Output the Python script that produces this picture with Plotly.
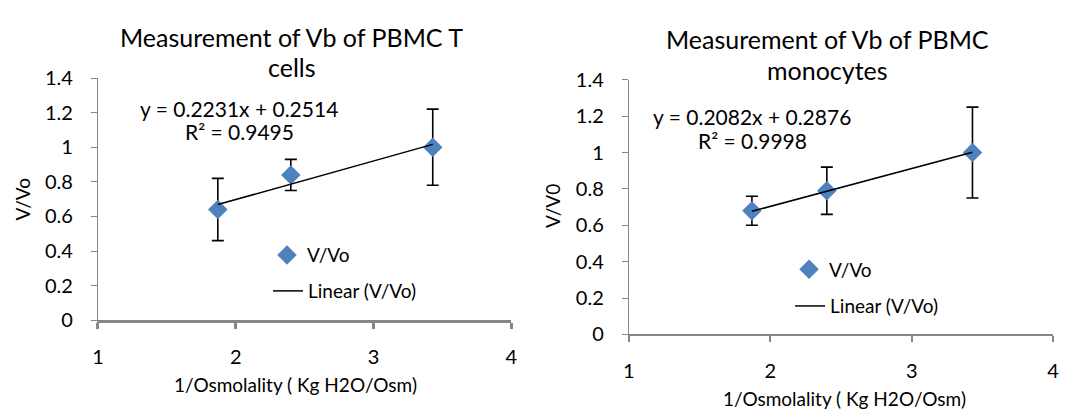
import plotly.graph_objects as go

# 1/Osmolality (Kg H2O/Osm) for the three test solutions
inv_osmolality = [1.87, 2.40, 3.43]

# PBMC T cells: relative volume V/Vo with error
tcell_v = [0.64, 0.84, 1.00]
tcell_err = [0.18, 0.09, 0.22]
tcell_fit = {"slope": 0.2231, "intercept": 0.2514, "r2": 0.9495}

# PBMC monocytes: relative volume V/V0 with error
mono_v = [0.68, 0.79, 1.00]
mono_err = [0.08, 0.13, 0.25]
mono_fit = {"slope": 0.2082, "intercept": 0.2876, "r2": 0.9998}

x_ticks = [1, 2, 3, 4]
y_ticks = [0, 0.2, 0.4, 0.6, 0.8, 1.0, 1.2, 1.4]

FONT = "Lato"
BLUE = "#4F81BD"
AXIS = "#878787"

W, H = 1065, 417


def px_x(p):
    return p / W


def px_y(p):
    return 1 - p / H


fig = go.Figure()


def add_panel(xa, ya, yv, err, fit, leg_pts, leg_line):
    fig.add_trace(go.Scatter(
        x=inv_osmolality, y=yv, mode="markers", name="V/Vo",
        xaxis=xa, yaxis=ya, legend=leg_pts, showlegend=True,
        marker=dict(symbol="diamond", size=15, color=BLUE),
        error_y=dict(type="data", array=err, visible=True,
                     color="black", thickness=1.6, width=6),
    ))
    x0, x1 = min(inv_osmolality), max(inv_osmolality)
    fig.add_trace(go.Scatter(
        x=[x0, x1],
        y=[fit["slope"] * x0 + fit["intercept"], fit["slope"] * x1 + fit["intercept"]],
        mode="lines", name="Linear (V/Vo)",
        xaxis=xa, yaxis=ya, legend=leg_line, showlegend=True,
        line=dict(color="black", width=1.5),
    ))


add_panel("x", "y", tcell_v, tcell_err, tcell_fit, "legend", "legend2")
add_panel("x2", "y2", mono_v, mono_err, mono_fit, "legend3", "legend4")

axis_common = dict(
    showgrid=False, zeroline=False, showline=True, linecolor=AXIS,
    ticks="outside", tickcolor=AXIS, ticklen=6,
    tickfont=dict(family=FONT, size=20, color="black"),
)

fig.update_layout(
    width=W, height=H,
    margin=dict(l=0, r=0, t=0, b=0),
    paper_bgcolor="white", plot_bgcolor="white",
    font=dict(family=FONT, color="black"),
    showlegend=True,
    xaxis=dict(axis_common, domain=[px_x(93), px_x(511)], range=[1, 4],
               tickvals=x_ticks, anchor="y", linewidth=3, tickwidth=3,
               ticklabelstandoff=11),
    yaxis=dict(axis_common, domain=[px_y(326), px_y(69)], range=[0, 1.4],
               tickvals=y_ticks, anchor="x", linewidth=1.3, tickwidth=1.3,
               ticklabelstandoff=14),
    xaxis2=dict(axis_common, domain=[px_x(630), px_x(1059)], range=[1, 4],
                tickvals=x_ticks, anchor="y2", linewidth=1.5, tickwidth=1.5,
                ticklabelstandoff=12),
    yaxis2=dict(axis_common, domain=[px_y(341), px_y(71)], range=[0, 1.4],
                tickvals=y_ticks, anchor="x2", linewidth=1.3, tickwidth=1.3,
                ticklabelstandoff=14),
)

leg_font = dict(family=FONT, size=19, color="black")
for name, (lx, ly) in {
    "legend": (264, 257), "legend2": (265, 295),
    "legend3": (792, 272), "legend4": (793, 311),
}.items():
    fig.update_layout({name: dict(
        x=px_x(lx), y=px_y(ly), xanchor="left", yanchor="middle",
        bgcolor="rgba(0,0,0,0)", font=leg_font, itemwidth=30,
    )})


def label(text, cx, cy, size, angle=0):
    fig.add_annotation(text=text, x=px_x(cx), y=px_y(cy), xref="paper", yref="paper",
                       xanchor="center", yanchor="middle", showarrow=False,
                       textangle=angle, font=dict(family=FONT, size=size, color="black"))


# chart titles, two lines each
label("Measurement of Vb of PBMC T", 289, 25, 25)
label("cells", 289, 57, 25)
label("Measurement of Vb of PBMC", 831, 28, 25)
label("monocytes", 831, 60, 25)

# axis titles
label("1/Osmolality ( Kg H2O/Osm)", 293, 394, 19)
label("1/Osmolality ( Kg H2O/Osm)", 848, 409, 19)
label("V/Vo", 17, 197, 19, -90)
label("V/V0", 552, 205, 19, -90)

# fitted line equations
for fit, cx, cy in [(tcell_fit, 236, 101), (mono_fit, 755, 110)]:
    label(f"y = {fit['slope']:.4f}x + {fit['intercept']:.4f}", cx, cy, 21)
    label(f"R² = {fit['r2']:.4f}", cx, cy + 25, 21)

fig.write_html("out.html")
